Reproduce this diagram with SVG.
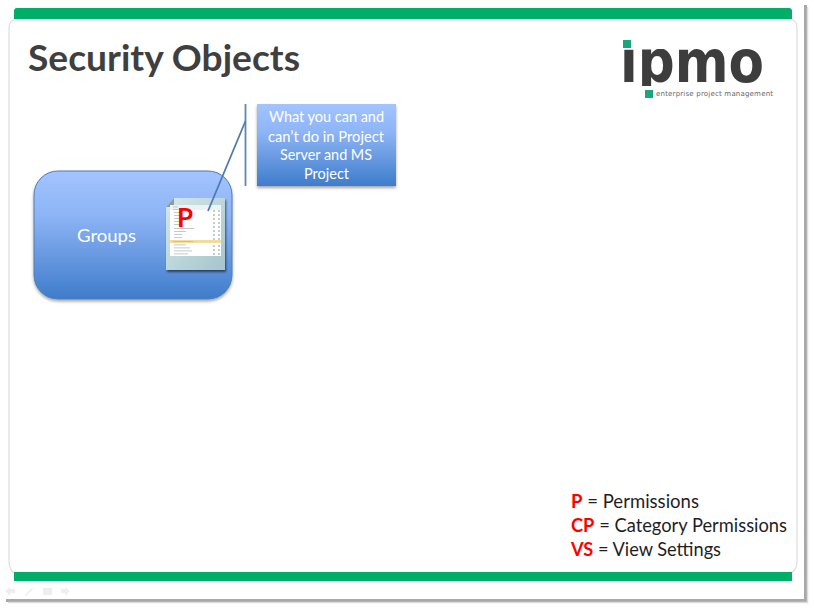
<svg xmlns="http://www.w3.org/2000/svg" width="814" height="608" viewBox="0 0 814 608">
<style>
text{font-family:"Lato","Open Sans","Liberation Sans",sans-serif}
.w{fill:#fff;font-size:15px;text-anchor:middle}
.k{fill:#1f1f1f;font-size:18.500px}
.r{fill:#f00;font-weight:700}
.bar{fill:#00ae68}
.row{fill:#b4bcbc}
.tick{fill:#c4cccc}
</style>
<defs>
<linearGradient id="blue" x1="0" y1="0" x2="0" y2="1">
<stop offset="0" stop-color="#a3c4ff"/><stop offset="0.35" stop-color="#8db4f5"/><stop offset="1" stop-color="#3f7ccb"/>
</linearGradient>
<linearGradient id="doc" x1="0" y1="0" x2="1" y2="1">
<stop offset="0" stop-color="#d6e7ea"/><stop offset="1" stop-color="#a4c6cc"/>
</linearGradient>
<filter id="sh" x="-10%" y="-10%" width="120%" height="125%"><feDropShadow dx="0" dy="2" stdDeviation="1.500" flood-color="#000" flood-opacity=".35"/></filter>
<filter id="sh2" x="-10%" y="-10%" width="125%" height="125%"><feDropShadow dx="1" dy="2" stdDeviation="1" flood-color="#000" flood-opacity=".55"/></filter>
<clipPath id="logo-clip"><rect x="615" y="49" width="155" height="37"/></clipPath>
</defs>
<rect width="814" height="608" fill="#fff"/>
<g id="slide-frame">
<path d="M6 600.500H805.500V5" fill="none" stroke="#a8a8a8" stroke-width="3"/>
<path d="M8 602.500H807.500V7" fill="none" stroke="#dcdcdc" stroke-width="1.500"/>
<path d="M789 19Q797 19 797 28V560Q797 574 785 575H20Q9 574 9 560V28Q9 19 18 19" fill="none" stroke="#dedede" stroke-width="1.200"/>
<path class="bar" d="M14 19V11Q14 8 17 8H789Q792 8 792 11V19Z"/>
<rect class="bar" x="14" y="572" width="778" height="9"/>
</g>
<g id="title"><text x="28" y="71" font-size="36" font-weight="700" fill="#3f3f3f" textLength="272" lengthAdjust="spacingAndGlyphs">Security Objects</text></g>
<g id="logo">
<rect x="623" y="40" width="8" height="8" fill="#19a67c"/>
<g clip-path="url(#logo-clip)"><text x="620" y="82" font-size="58" font-weight="700" fill="#3d3d3d" textLength="144" lengthAdjust="spacingAndGlyphs" style="font-family:'DejaVu Sans',sans-serif">ıpmo</text></g>
<rect x="645" y="90" width="8" height="8" fill="#19a67c"/>
<text x="656" y="96" font-size="7" fill="#666" textLength="117" style="font-family:'DejaVu Sans',sans-serif">enterprise project management</text>
</g>
<g id="groups">
<rect x="34" y="171" width="198" height="128" rx="24" fill="url(#blue)" stroke="#4a7ebb" stroke-width="1" filter="url(#sh)"/>
<text class="w" x="106.500" y="242" style="font-size:17px" textLength="59" lengthAdjust="spacingAndGlyphs">Groups</text>
</g>
<g id="permissions-doc">
<path d="M166 207L174 198H225V270H166Z" fill="url(#doc)" filter="url(#sh2)"/>
<path d="M166 207L174 198V207Z" fill="#8a9ea2"/>
<rect x="170" y="205" width="51" height="51" fill="#fff"/>
<rect x="170" y="205" width="51" height="5" fill="#eef2f2"/>
<rect x="170" y="240" width="51" height="3" fill="#f2dc9c"/>
<g class="row">
<rect x="173" y="206.500" width="5" height=".8"/><rect x="173" y="209" width="5" height=".8"/><rect x="174" y="212" width="8" height=".8"/><rect x="174" y="215" width="8" height=".8"/><rect x="174" y="218" width="8" height=".8"/><rect x="174" y="221" width="8" height=".8"/><rect x="174" y="224" width="8" height=".8"/><rect x="174" y="228" width="20" height=".8"/><rect x="174" y="231" width="12" height=".8"/><rect x="174" y="234" width="8" height=".8"/><rect x="174" y="237" width="8" height=".8"/><rect x="173" y="241" width="20" height=".8"/><rect x="174" y="244.500" width="12" height=".8"/><rect x="174" y="247.500" width="16" height=".8"/><rect x="174" y="250.500" width="18" height=".8"/><rect x="174" y="253.500" width="14" height=".8"/>
</g>
<g class="tick">
<rect x="213" y="210" width="2" height="2"/><rect x="218" y="210" width="2" height="2"/><rect x="213" y="214" width="2" height="2"/><rect x="218" y="214" width="2" height="2"/><rect x="213" y="218" width="2" height="2"/><rect x="218" y="218" width="2" height="2"/><rect x="213" y="222" width="2" height="2"/><rect x="218" y="222" width="2" height="2"/><rect x="213" y="226" width="2" height="2"/><rect x="218" y="226" width="2" height="2"/><rect x="213" y="230" width="2" height="2"/><rect x="218" y="230" width="2" height="2"/><rect x="213" y="234" width="2" height="2"/><rect x="218" y="234" width="2" height="2"/><rect x="213" y="238" width="2" height="2"/><rect x="218" y="238" width="2" height="2"/><rect x="213" y="245" width="2" height="2"/><rect x="218" y="245" width="2" height="2"/><rect x="213" y="249" width="2" height="2"/><rect x="218" y="249" width="2" height="2"/><rect x="213" y="253" width="2" height="2"/><rect x="218" y="253" width="2" height="2"/>
</g>
<text class="r" x="177" y="227" font-size="26">P</text>
</g>
<g id="connectors">
<path d="M245.500 104V186" fill="none" stroke="#5f86b8" stroke-width="1.800"/>
<path d="M245.500 121L208 211" fill="none" stroke="#4f7cb0" stroke-width="1.800"/>
</g>
<g id="callout">
<rect x="257" y="104" width="139" height="82" fill="url(#blue)" filter="url(#sh)"/>
<text class="w" x="326.500" y="122" textLength="115" lengthAdjust="spacingAndGlyphs">What you can and</text>
<text class="w" x="326" y="141.500" textLength="116" lengthAdjust="spacingAndGlyphs">can’t do in Project</text>
<text class="w" x="326" y="160" textLength="92" lengthAdjust="spacingAndGlyphs">Server and MS</text>
<text class="w" x="326.500" y="178.500" textLength="45" lengthAdjust="spacingAndGlyphs">Project</text>
</g>
<g id="legend">
<text x="571" y="508" class="k" textLength="128" lengthAdjust="spacingAndGlyphs"><tspan class="r">P</tspan> = Permissions</text>
<text x="571" y="532" class="k" textLength="216" lengthAdjust="spacingAndGlyphs"><tspan class="r">CP</tspan> = Category Permissions</text>
<text x="571" y="556" class="k" textLength="150" lengthAdjust="spacingAndGlyphs"><tspan class="r">VS</tspan> = View Settings</text>
</g>
<g id="slide-controls" fill="#eeeeee">
<path d="M5 591L10 587V589H15V593H10V596Z"/>
<path d="M25 595L32 588L33 589L26 596Z"/>
<rect x="43" y="588" width="9" height="7"/>
<path d="M70 591L65 587V589H61V593H65V596Z"/>
</g>
</svg>
